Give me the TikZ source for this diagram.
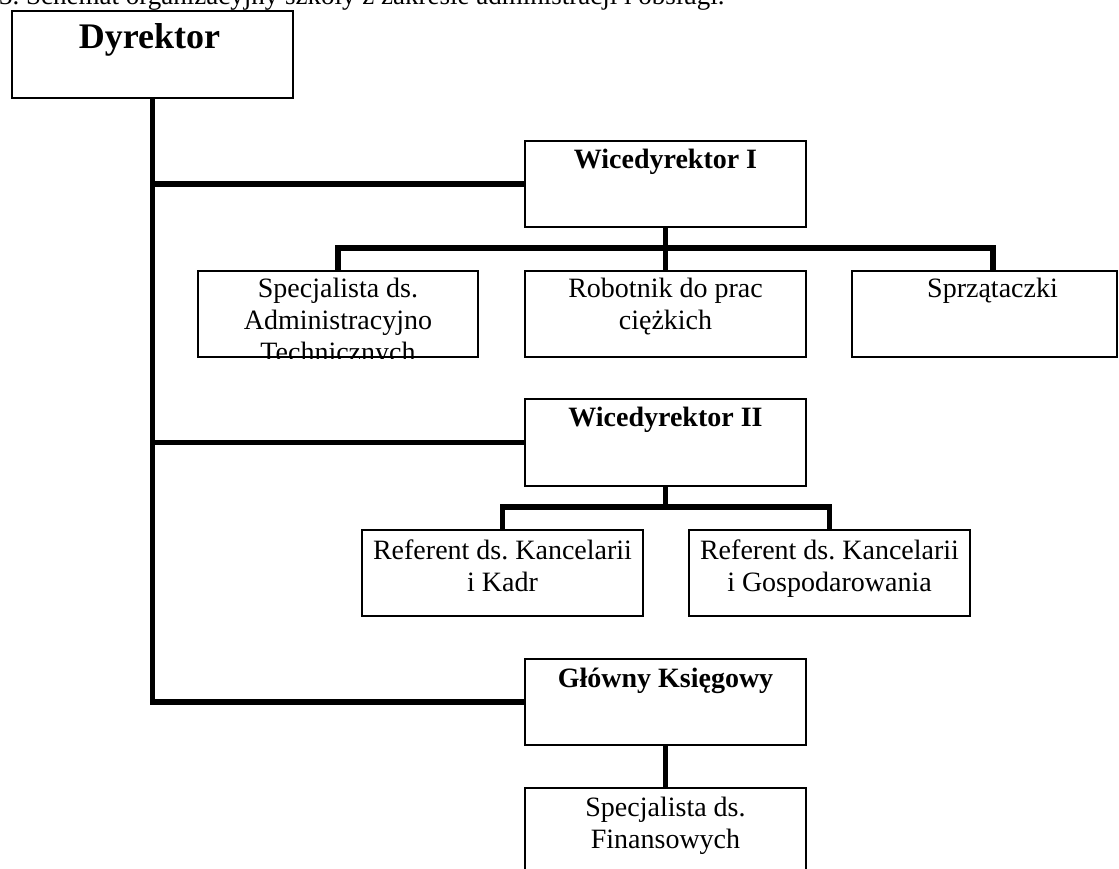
\documentclass[tikz,border=0pt]{standalone}
\usepackage{fontspec}
\setmainfont{Liberation Serif}
\frenchspacing

\begin{document}
\begin{tikzpicture}[x=1pt, y=-1pt,
        box/.style={draw, line width=1.5pt, minimum width=281pt, minimum height=86pt, inner sep=0pt},
        body/.style={font=\fontsize{28}{32}\selectfont, anchor=north, align=center, inner sep=0pt, yshift=-8pt},
        head/.style={font=\bfseries\fontsize{28}{32}\selectfont, anchor=north, inner sep=0pt, yshift=-9pt},
        chief/.style={font=\bfseries\fontsize{36}{40}\selectfont, anchor=north, inner sep=0pt, yshift=-13pt, xshift=-3pt},
        conn/.style={line width=5.5pt}
    ]

    \useasboundingbox (0, 0) rectangle (1119, 869);

    \node [anchor=base west, font=\fontsize{27}{32}\selectfont, inner sep=0pt] (cap) at (-1, 5)
        {3. Schemat organizacyjny szkoły z zakresie administracji i obsługi.};

    \node [box, minimum height=87pt, label={[chief]north:Dyrektor}] (dyr) at (152.5, 54.5) {};

    \node [box, label={[head]north:Wicedyrektor I}] (wice1) at (665.5, 184) {};
    \begin{scope}
        \clip (197, 270) rectangle (479, 358);
        \node [box, minimum width=280pt, label={[body]north:{Specjalista ds.\\Administracyjno\\Technicznych}}] (spec) at (338, 314) {};
    \end{scope}
    \node [box, label={[body]north:{Robotnik do prac\\ciężkich}}] (rob) at (665.5, 314) {};
    \node [box, minimum width=265pt, label={[body, xshift=8pt]north:Sprzątaczki}] (sprz) at (984.5, 314) {};

    \node [box, minimum height=87pt, label={[head]north:Wicedyrektor II}] (wice2) at (665.5, 442.5) {};
    \node [box, label={[body, yshift=-2pt]north:{Referent ds. Kancelarii\\i Kadr}}] (ref1) at (502.5, 573) {};
    \node [box, label={[body, yshift=-2pt]north:{Referent ds. Kancelarii\\i Gospodarowania}}] (ref2) at (829.5, 573) {};

    \node [box, label={[head, yshift=-1pt]north:Główny Księgowy}] (glow) at (665.5, 702) {};
    \node [box, label={[body, yshift=-2pt]north:{Specjalista ds.\\Finansowych}}] (fin) at (665.5, 831) {};

    \coordinate (bus1) at (665.5, 248);
    \coordinate (bus2) at (665.5, 507);

    \draw [conn] (dyr.south) |- (glow.west);
    \draw [conn] (dyr.south |- wice1.west) -- (wice1.west);
    \draw [conn] (dyr.south |- wice2.west) -- (wice2.west);

    \draw [conn] (wice1.south) -- (rob.north);
    \draw [conn] (spec.north) |- (bus1) -| ([xshift=8.5pt]sprz.north);

    \draw [conn] (wice2.south) -- (bus2);
    \draw [conn] (ref1.north) |- (bus2) -| (ref2.north);

    \draw [conn] (glow.south) -- (fin.north);

\end{tikzpicture}
\end{document}
